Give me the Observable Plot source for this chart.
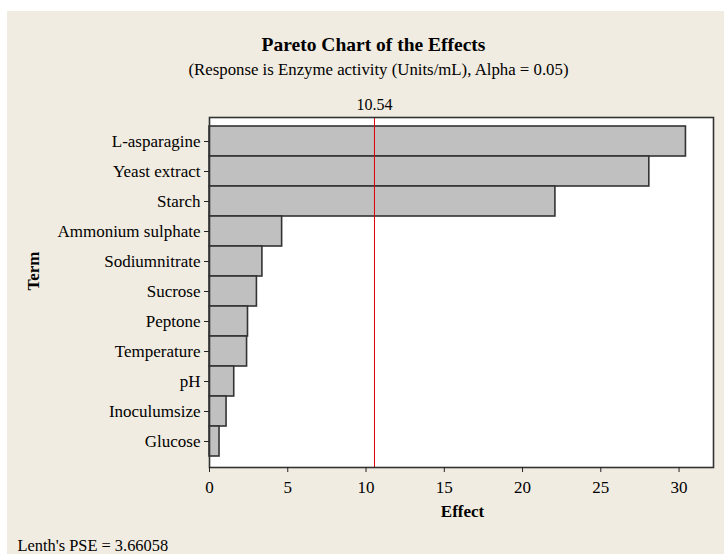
<!DOCTYPE html>
<html>
<head>
<meta charset="utf-8">
<script src="https://cdn.jsdelivr.net/npm/d3@7"></script>
<script src="https://cdn.jsdelivr.net/npm/@observablehq/plot@0.6"></script>
<style>
  html, body { margin: 0; padding: 0; background: #ffffff; }
  #chart { position: absolute; left: 7px; top: 11px; }
</style>
</head>
<body>
<div id="chart"></div>
<script>
const terms = ["L-asparagine", "Yeast extract", "Starch", "Ammonium sulphate", "Sodiumnitrate", "Sucrose", "Peptone", "Temperature", "pH", "Inoculumsize", "Glucose"];
const effects = [30.44, 28.1, 22.1, 4.64, 3.38, 3.03, 2.46, 2.40, 1.58, 1.09, 0.64];
const refValue = 10.54;
const xTicks = [0, 5, 10, 15, 20, 25, 30];
const titleText = "Pareto Chart of the Effects";
const subtitleText = "(Response is Enzyme activity (Units/mL), Alpha = 0.05)";
const xLabel = "Effect";
const yLabel = "Term";
const footText = "Lenth's PSE = 3.66058";

const data = terms.map((t, i) => ({term: t, effect: effects[i]}));
const font = "'Liberation Serif', 'Times New Roman', serif";

const chart = Plot.plot({
  width: 717,
  height: 543,
  marginLeft: 202,
  marginTop: 106,
  marginRight: 11,
  marginBottom: 87,
  style: {background: "#f1ece1", fontFamily: font, fontSize: "17px", color: "#000", overflow: "visible"},
  x: {domain: [0, 32.2], label: null},
  y: {domain: terms, padding: 0, insetTop: 8, insetBottom: 10, label: null},
  marks: [
    Plot.frame({fill: "#ffffff", stroke: "none"}),
    Plot.barX(data, {x: "effect", y: "term", fill: "#c0c0c0", stroke: "#333333", strokeWidth: 1.6}),
    Plot.ruleX([refValue], {stroke: "#e00000", strokeWidth: 1}),
    Plot.frame({stroke: "#333333", strokeWidth: 1.6}),
    Plot.axisX({ticks: xTicks, tickSize: 5, tickPadding: 8, stroke: "#222", fontSize: 17, label: null}),
    Plot.axisY({tickSize: 5, tickPadding: 4, stroke: "#222", fontSize: 17, label: null}),
    Plot.text([refValue], {x: d => d, text: d => String(d), frameAnchor: "top", lineAnchor: "middle", dy: -13, fontSize: 16}),
    Plot.text([titleText], {text: d => d, frameAnchor: "top", lineAnchor: "middle", dx: -88, dy: -73, fontSize: 19.5, fontWeight: "bold"}),
    Plot.text([subtitleText], {text: d => d, frameAnchor: "top", lineAnchor: "middle", dx: -83, dy: -48, fontSize: 16.8}),
    Plot.text([xLabel], {text: d => d, frameAnchor: "bottom", lineAnchor: "middle", dx: 1, dy: 44, fontSize: 17, fontWeight: "bold"}),
    Plot.text([yLabel], {text: d => d, frameAnchor: "left", lineAnchor: "middle", rotate: -90, dx: -176, dy: -2, fontSize: 17, fontWeight: "bold"}),
    Plot.text([footText], {text: d => d, frameAnchor: "bottom-left", lineAnchor: "middle", textAnchor: "start", dx: -192, dy: 78, fontSize: 16.4})
  ]
});
document.getElementById("chart").appendChild(chart);
</script>
</body>
</html>
